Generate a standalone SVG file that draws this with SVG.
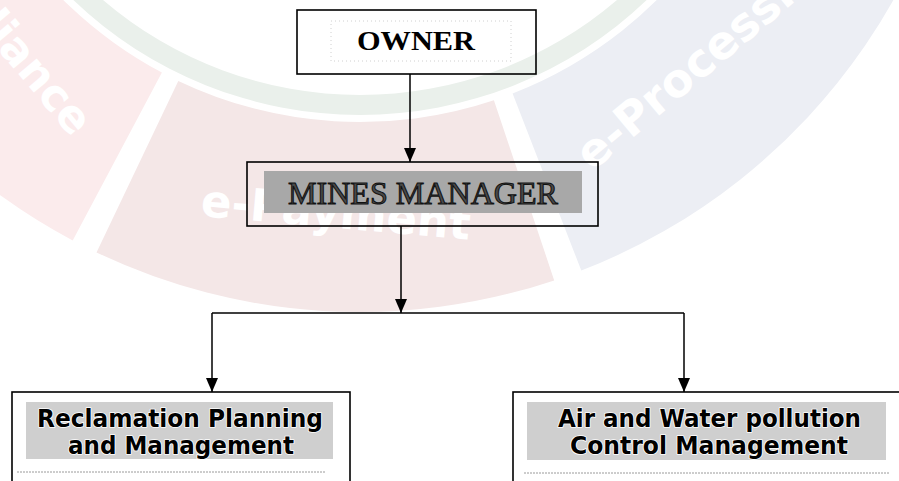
<svg xmlns="http://www.w3.org/2000/svg" width="899" height="481" viewBox="0 0 899 481">
  <defs>
    <style>
      .wm-text { font-family: "DejaVu Sans", "Liberation Sans", sans-serif; font-weight: bold; fill: #ffffff; }
      .box { fill: none; stroke: #000; stroke-width: 1.6; }
      .conn { fill: none; stroke: #000; stroke-width: 1.5; }
      .shade-dark { fill: #a8a8a8; }
      .shade-light { fill: #cfcfcf; }
      .serif { font-family: "Liberation Serif", "Times New Roman", serif; }
      .sans { font-family: "DejaVu Sans Condensed", "DejaVu Sans", "Liberation Sans", sans-serif; font-stretch: condensed; font-weight: bold; font-size: 25px; fill: #000; stroke: #ffffff; stroke-width: 1.6; paint-order: stroke; stroke-linejoin: round; text-anchor: middle; }
    </style>
    <marker id="arrow" viewBox="0 0 14 12" refX="14" refY="6" markerWidth="14" markerHeight="12" markerUnits="userSpaceOnUse" orient="auto">
      <path d="M0,0 L14,6 L0,12 z" fill="#000"/>
    </marker>
  </defs>

  <rect width="899" height="481" fill="#ffffff"/>

  <!-- faint background watermark -->
  <g id="watermark">
    <!-- center (360,-300) ; green band r 395-415 ; outer segments r 422-612 -->
    <path d="M 73.3,0 A 415 415 0 0 0 646.7,0 L 617,0 A 395 395 0 0 1 103,0 Z" fill="#eaf0eb"/>
    <!-- red segment: 118deg to 180deg -->
    <path d="M 161.9,72.6 L 72.7,240.4 A 612 612 0 0 1 -252,-300 L -62,-300 A 422 422 0 0 0 161.9,72.6 Z" fill="#fbebec"/>
    <!-- mauve segment: 71.5deg to 115.5deg -->
    <path d="M 178.3,80.9 L 96.5,252.4 A 612 612 0 0 0 554.2,280.4 L 493.9,100.2 A 422 422 0 0 1 178.3,80.9 Z" fill="#f4e7e7"/>
    <!-- blue segment: 0deg to 68.8deg -->
    <path d="M 512.6,93.4 L 581.3,270.6 A 612 612 0 0 0 972,-300 L 782,-300 A 422 422 0 0 1 512.6,93.4 Z" fill="#eceef4"/>
    <text class="wm-text" font-size="44" text-anchor="end" transform="translate(72,138) rotate(50)">Compliance</text>
    <text class="wm-text" font-size="45" transform="translate(200,216) rotate(5)">e-Payment</text>
    <text class="wm-text" font-size="46" transform="translate(592,172) rotate(-40)">e-Processing</text>
  </g>

  <!-- connectors -->
  <g id="connectors">
    <path class="conn" d="M410,74 V162" marker-end="url(#arrow)"/>
    <path class="conn" d="M401,226 V313" marker-end="url(#arrow)"/>
    <path class="conn" d="M212,313 H684"/>
    <path class="conn" d="M212,313 V392" marker-end="url(#arrow)"/>
    <path class="conn" d="M684,313 V392" marker-end="url(#arrow)"/>
  </g>

  <g id="owner">
    <rect class="box" x="297" y="10" width="239" height="64"/>
    <rect x="331" y="21" width="180" height="40" fill="none" stroke="#c4c4c4" stroke-width="0.8" stroke-dasharray="1 3"/>
    <text class="serif" x="416" y="50" font-size="28" font-weight="bold" text-anchor="middle" textLength="118" lengthAdjust="spacingAndGlyphs">OWNER</text>
  </g>

  <g id="mines-manager">
    <rect class="box" x="247" y="162" width="351" height="64"/>
    <rect class="shade-dark" x="264" y="171" width="318" height="42"/>
    <text class="serif" x="423" y="204" font-size="31" text-anchor="middle" textLength="270" lengthAdjust="spacingAndGlyphs" fill="#4a4a4a" stroke="#111" stroke-width="1">MINES MANAGER</text>
  </g>

  <g id="reclamation">
    <rect class="box" x="12" y="392" width="338" height="100"/>
    <rect class="shade-light" x="26" y="402" width="307" height="57"/>
    <text class="sans" x="180" y="427" textLength="286" lengthAdjust="spacingAndGlyphs">Reclamation Planning</text>
    <text class="sans" x="181" y="454" textLength="226" lengthAdjust="spacingAndGlyphs">and Management</text>
    <line x1="17" y1="472" x2="326" y2="472" stroke="#9a9a9a" stroke-width="1" stroke-dasharray="2 1"/>
  </g>

  <g id="air-water">
    <rect class="box" x="513" y="392" width="400" height="100"/>
    <rect class="shade-light" x="527" y="402" width="359" height="58"/>
    <text class="sans" x="709.5" y="427" textLength="303" lengthAdjust="spacingAndGlyphs">Air and Water pollution</text>
    <text class="sans" x="709" y="454" textLength="278" lengthAdjust="spacingAndGlyphs">Control Management</text>
    <line x1="524" y1="473" x2="890" y2="473" stroke="#9a9a9a" stroke-width="1" stroke-dasharray="2 1"/>
  </g>
</svg>
